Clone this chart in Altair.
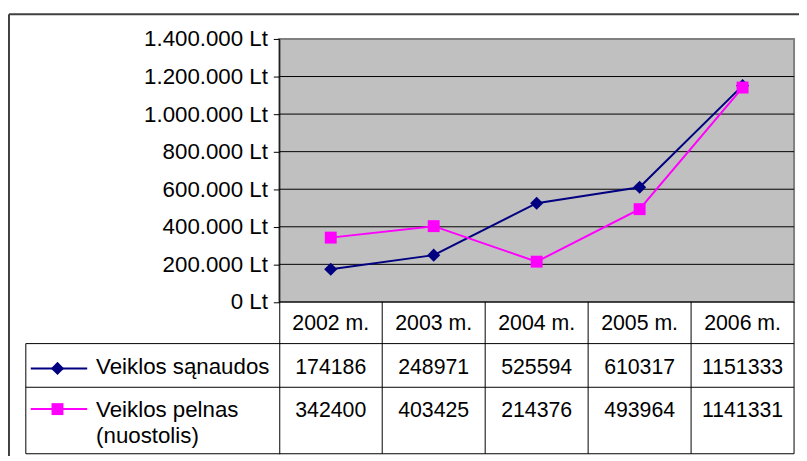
import altair as alt
import pandas as pd

# ---------------- data ----------------
years = ["2002 m.", "2003 m.", "2004 m.", "2005 m.", "2006 m."]
series = ["Veiklos sąnaudos", "Veiklos pelnas (nuostolis)"]
sanaudos = [174186, 248971, 525594, 610317, 1151333]
pelnas = [342400, 403425, 214376, 493964, 1141331]
legend_lines = [["Veiklos sąnaudos"], ["Veiklos pelnas", "(nuostolis)"]]
y_ticks = [0, 200000, 400000, 600000, 800000, 1000000, 1200000, 1400000]
colors = ["#000080", "#FF00FF"]
shapes = ["diamond", "square"]

# ---------------- layout (pixels) ----------------
COL_W = 104          # width of one year column
LEG_W = 256          # width of the legend column of the data table
PLOT_H = 265         # height of the value area
TABLE_H = 153        # height of the data table
Y_MAX = 1400000
N = len(years)
XL = -LEG_W / COL_W  # left edge of table in column units
FONT = "Liberation Sans"
FS = 21.5

def below(px):
    """position px pixels below the value axis zero, in value units"""
    return -px * Y_MAX / PLOT_H

ROW1_TOP, ROW2_TOP = 42, 86
HEADER_BASE = 28.5
ROW_BASE = [72.5, 115.5]
LINE_H = 27
SYM_Y = [67, 108]

xscale = alt.Scale(domain=[XL, N], nice=False, zero=False)
yscale = alt.Scale(domain=[below(TABLE_H), Y_MAX], nice=False, zero=False)
yaxis = alt.Axis(
    values=y_ticks, title=None, grid=False, offset=-LEG_W, zindex=1,
    domainColor="black", domainWidth=1, tickColor="black", tickSize=6,
    labelFont=FONT, labelFontSize=22.5, labelColor="black", labelPadding=6,
    labelExpr="replace(replace(format(datum.value, ',d'), ',', '.'), ',', '.') + ' Lt'",
)

def X(f):
    return alt.X(f, type="quantitative", scale=xscale, axis=None)

def Y(f):
    return alt.Y(f, type="quantitative", scale=yscale, axis=yaxis)

# ---------------- frames ----------------
bg = pd.DataFrame({"x": [0], "x2": [N], "y": [0], "y2": [Y_MAX]})
grid = pd.DataFrame({"y": y_ticks[1:-1], "x": 0, "x2": N})

rows = []
for s, vals in zip(series, [sanaudos, pelnas]):
    for j, v in enumerate(vals):
        rows.append({"series": s, "x": j + 0.5, "y": v, "year": years[j]})
lines = pd.DataFrame(rows)

header = pd.DataFrame({"x": [j + 0.5 for j in range(N)], "y": below(HEADER_BASE), "text": years})

vals_rows = []
for i, vals in enumerate([sanaudos, pelnas]):
    for j, v in enumerate(vals):
        vals_rows.append({"x": j + 0.5, "y": below(ROW_BASE[i]), "text": str(v)})
values_df = pd.DataFrame(vals_rows)

hl = pd.DataFrame({
    "x": [0, XL, XL, XL],
    "x2": [N, N, N, N],
    "y": [0, below(ROW1_TOP), below(ROW2_TOP), below(TABLE_H)],
})
vl = pd.DataFrame({
    "x": [XL] + list(range(1, N + 1)),
    "y": [below(ROW1_TOP)] + [0] * N,
    "y2": [below(TABLE_H)] * (N + 1),
})

leg_sym = pd.DataFrame({
    "series": series,
    "x": XL + 5 / COL_W,
    "x2": XL + 62 / COL_W,
    "xm": XL + 32 / COL_W,
    "y": [below(v) for v in SYM_Y],
})

leg_txt_rows = []
for i, ls in enumerate(legend_lines):
    for k, t in enumerate(ls):
        leg_txt_rows.append({"x": XL + 71 / COL_W, "y": below(ROW_BASE[i] + k * LINE_H), "text": t})
leg_txt = pd.DataFrame(leg_txt_rows)

color_enc = alt.Color("series:N", scale=alt.Scale(domain=series, range=colors), legend=None)
shape_enc = alt.Shape("series:N", scale=alt.Scale(domain=series, range=shapes), legend=None)
size_enc = alt.Size("series:N", scale=alt.Scale(domain=series, range=[175, 145]), legend=None)

# ---------------- layers ----------------
bg_layer = alt.Chart(bg).mark_rect(fill="#C0C0C0", stroke="#808080", strokeWidth=2).encode(
    x=X("x"), x2="x2", y=Y("y"), y2="y2")
grid_layer = alt.Chart(grid).mark_rule(color="black", strokeWidth=1).encode(
    x=X("x"), x2="x2", y=Y("y"))
line_layer = alt.Chart(lines).mark_line(strokeWidth=2).encode(
    x=X("x"), y=Y("y"), color=color_enc, detail="series:N")
point_layer = alt.Chart(lines).mark_point(filled=True, opacity=1).encode(
    x=X("x"), y=Y("y"), color=color_enc, shape=shape_enc, size=size_enc)
hl_layer = alt.Chart(hl).mark_rule(color="black", strokeWidth=1).encode(
    x=X("x"), x2="x2", y=Y("y"))
vl_layer = alt.Chart(vl).mark_rule(color="black", strokeWidth=1).encode(
    x=X("x"), y=Y("y"), y2="y2")
text_kw = dict(font=FONT, fontSize=FS, color="black", baseline="alphabetic")
header_layer = alt.Chart(header).mark_text(align="center", **text_kw).encode(
    x=X("x"), y=Y("y"), text="text:N")
values_layer = alt.Chart(values_df).mark_text(align="center", **text_kw).encode(
    x=X("x"), y=Y("y"), text="text:N")
leg_line_layer = alt.Chart(leg_sym).mark_rule(strokeWidth=2).encode(
    x=X("x"), x2="x2", y=Y("y"), color=color_enc)
leg_pt_layer = alt.Chart(leg_sym).mark_point(filled=True, opacity=1).encode(
    x=X("xm"), y=Y("y"), color=color_enc, shape=shape_enc, size=size_enc)
leg_txt_layer = alt.Chart(leg_txt).mark_text(
    align="left", font=FONT, fontSize=22.5, color="black", baseline="alphabetic").encode(
    x=X("x"), y=Y("y"), text="text:N")

frame_df = pd.DataFrame({"k": [0]})
frame_top = alt.Chart(frame_df).mark_rule(color="#404040", strokeWidth=2).encode(
    x=alt.value(-17), x2=alt.value(LEG_W + N * COL_W + 10), y=alt.value(-25))
frame_left = alt.Chart(frame_df).mark_rule(color="#404040", strokeWidth=2).encode(
    x=alt.value(-17), y=alt.value(-25), y2=alt.value(PLOT_H + TABLE_H + 10))

chart = alt.layer(
    bg_layer, grid_layer, line_layer, point_layer, hl_layer, vl_layer,
    header_layer, values_layer, leg_line_layer, leg_pt_layer, leg_txt_layer,
    frame_top, frame_left,
).properties(
    width=LEG_W + N * COL_W,
    height=PLOT_H + TABLE_H + 1,
    autosize=alt.AutoSizeParams(type="none"),
    padding={"left": 18, "top": 29, "right": 5, "bottom": 0},
    background="white",
).configure_view(strokeWidth=0)

chart.save("out.html", embed_options={"renderer": "svg", "actions": False})
